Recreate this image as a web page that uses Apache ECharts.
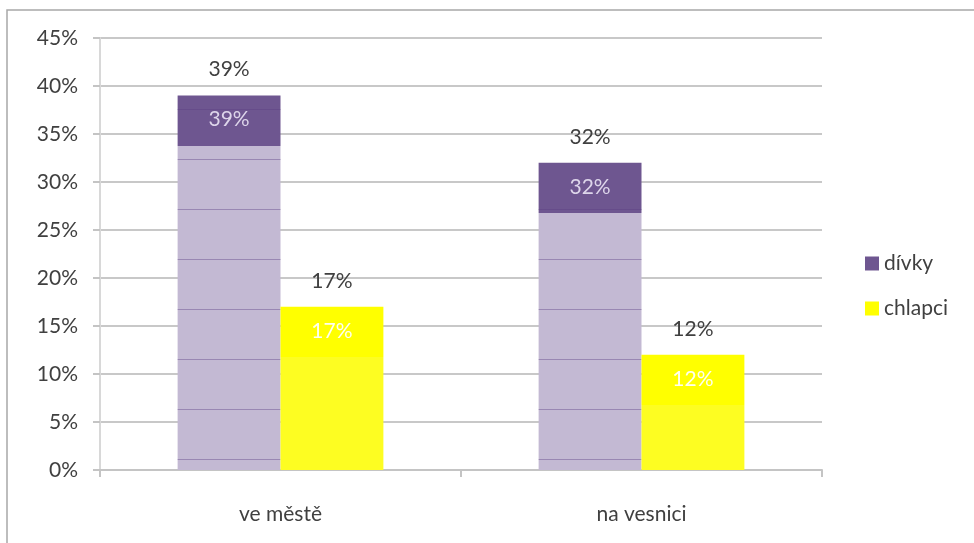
<!DOCTYPE html>
<html>
<head>
<meta charset="utf-8">
<script src="https://cdn.jsdelivr.net/npm/echarts@6/dist/echarts.min.js"></script>
<style>
html,body{margin:0;padding:0;background:#fff;}
#chart{width:974px;height:543px;}
</style>
</head>
<body>
<div id="chart"></div>
<script>
var categories = ['ve městě', 'na vesnici'];
var divky = [39, 32];
var chlapci = [17, 12];
var yTicks = [0, 5, 10, 15, 20, 25, 30, 35, 40, 45];

var FONT = 'Lato';
var FS = 21;
var BAND = 5.2; // dark top band height in axis units (style)

function bandItems(values, dark, light) {
  return values.map(function (v) {
    var f = Math.min(1, BAND / v);
    return {
      value: v,
      itemStyle: {
        color: {
          type: 'linear', x: 0, y: 0, x2: 0, y2: 1,
          colorStops: [
            { offset: 0, color: dark },
            { offset: f, color: dark },
            { offset: f + 0.0001, color: light },
            { offset: 1, color: light }
          ]
        }
      }
    };
  });
}

function labelFor(innerColor) {
  return {
    show: true,
    position: 'insideTop',
    distance: 0,
    offset: [0, -38],
    fontFamily: FONT,
    formatter: function (p) {
      return '{a|' + p.value + '%}\n{b|' + p.value + '%}';
    },
    rich: {
      a: { color: '#404040', fontSize: FS, lineHeight: 24, fontFamily: FONT },
      b: { color: innerColor, fontSize: FS, lineHeight: 76, fontFamily: FONT }
    }
  };
}

var chart = echarts.init(document.getElementById('chart'), null, { renderer: 'canvas' });
chart.setOption({
  backgroundColor: '#ffffff',
  animation: false,
  graphic: [
    {
      type: 'polyline',
      shape: { points: [[7, 543], [7, 10], [974, 10]] },
      style: { stroke: '#a8a8a8', lineWidth: 1.5, fill: null },
      z: 100
    }
  ],
  grid: { left: 100, right: 152, top: 38, bottom: 73 },
  legend: {
    orient: 'vertical',
    left: 860,
    top: 248,
    itemGap: 24,
    itemWidth: 14,
    itemHeight: 14,
    icon: 'rect',
    textStyle: { fontFamily: FONT, fontSize: FS, color: '#404040' },
    data: [
      { name: 'dívky', itemStyle: { color: '#6e5690', decal: 'none' } },
      { name: 'chlapci', itemStyle: { color: '#ffff00', decal: 'none' } }
    ]
  },
  xAxis: {
    type: 'category',
    data: categories,
    axisLine: { show: true, lineStyle: { color: '#c4c4c4', width: 2 } },
    axisTick: { show: true, length: 7, lineStyle: { color: '#c4c4c4', width: 2 } },
    axisLabel: { fontFamily: FONT, fontSize: FS, color: '#404040', margin: 34 }
  },
  yAxis: {
    type: 'value',
    min: yTicks[0],
    max: yTicks[yTicks.length - 1],
    interval: 5,
    axisLine: { show: true, lineStyle: { color: '#d8d8d8', width: 2 } },
    axisTick: { show: true, length: 7, lineStyle: { color: '#c4c4c4', width: 2 } },
    axisLabel: { fontFamily: FONT, fontSize: FS, color: '#404040', margin: 22, formatter: '{value}%' },
    splitLine: { show: true, lineStyle: { color: '#c8c8c8', width: 2 } }
  },
  series: [
    {
      name: 'dívky',
      type: 'bar',
      barGap: '0%',
      barCategoryGap: '43%',
      data: bandItems(divky, '#6e5690', '#c3b9d3'),
      itemStyle: {
        decal: {
          symbol: 'rect',
          symbolSize: 1,
          dashArrayX: [[10, 0]],
          dashArrayY: [0, 9, 1, 40],
          color: 'rgba(90,60,130,0.4)'
        }
      },
      label: labelFor('#ddd5ea')
    },
    {
      name: 'chlapci',
      type: 'bar',
      data: bandItems(chlapci, '#ffff00', '#fdfd22'),
      label: labelFor('#fffff0')
    }
  ]
});
</script>
</body>
</html>
